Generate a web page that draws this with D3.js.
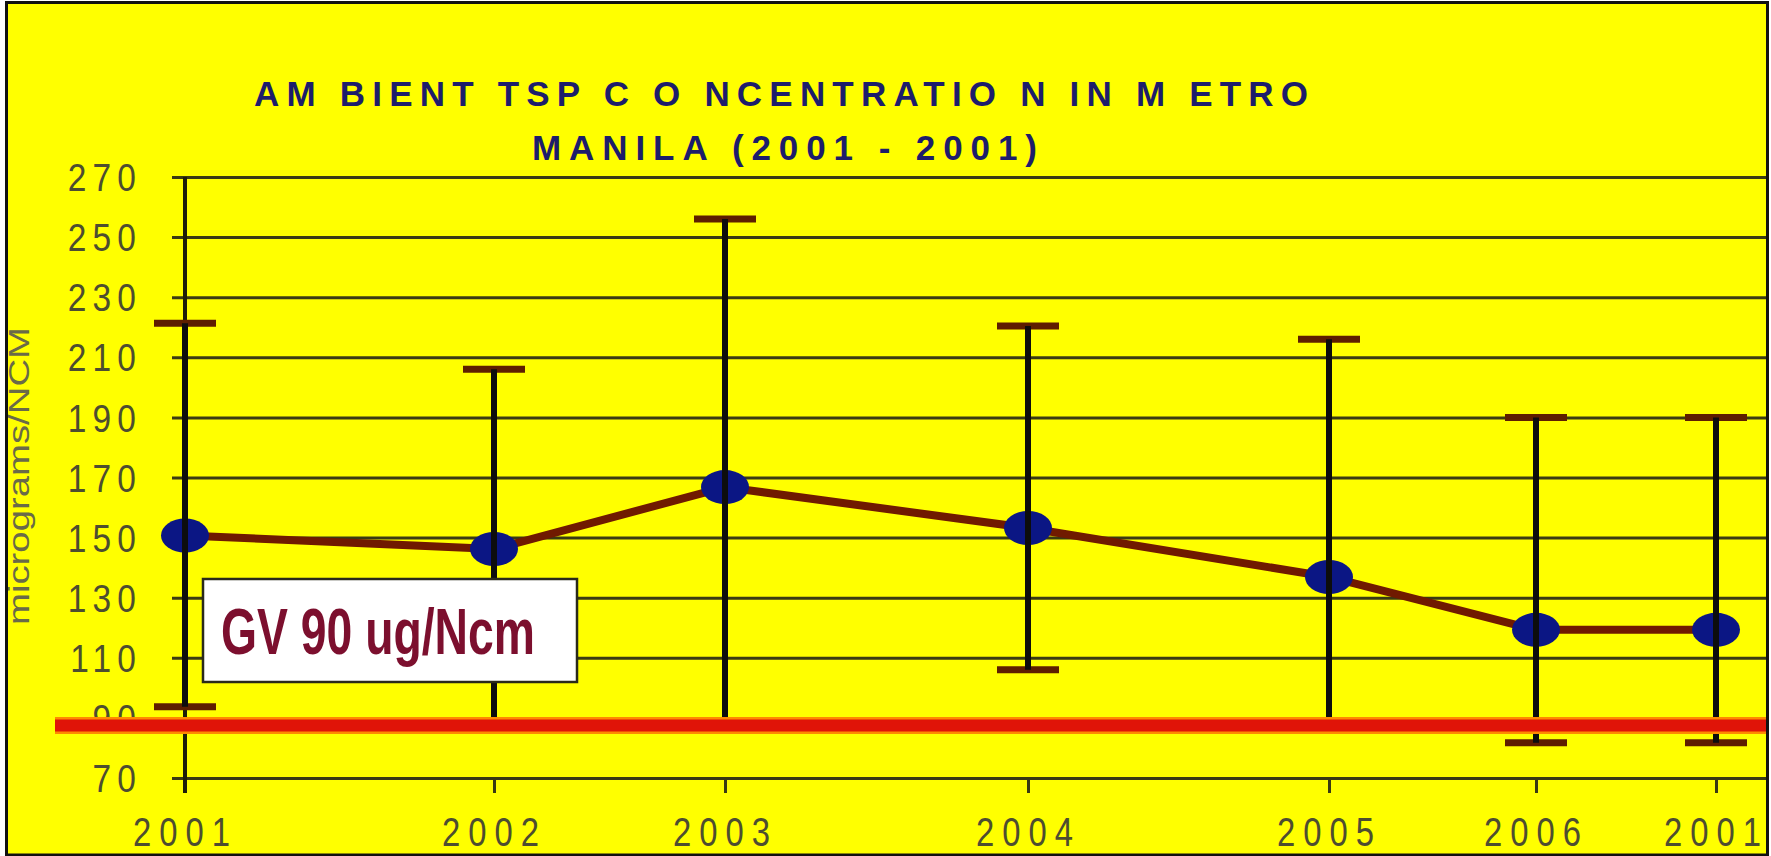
<!DOCTYPE html>
<html lang="en">
<head>
<meta charset="UTF-8">
<title>Ambient TSP Concentration in Metro Manila</title>
<script src="https://d3js.org/d3.v7.min.js"></script>
<style>
  body { margin: 0; background: #fff; }
  svg { display: block; }
  text { font-family: "Liberation Sans", Arial, sans-serif; }
</style>
</head>
<body>
<div id="chart"></div>
<script>
// year labels as printed on the slide (the last one really reads 2001)
var yearLabels = ["2001", "2002", "2003", "2004", "2005", "2006", "2001"];
var meanTsp  = [150.7, 146.2, 166.8, 153.2, 136.9, 119.3, 119.3];
var upperTsp = [221.3, 206.0, 256.0, 220.4, 216.0, 190.0, 190.0];
var lowerTsp = [93.7, 89.0, 89.0, 106.0, 89.0, 81.7, 81.7];
var yTickValues = [70, 90, 110, 130, 150, 170, 190, 210, 230, 250, 270];
var guideValue = 87.5;   // the red GV line sits a little under the 90 gridline
var guideLabel = "GV 90 ug/Ncm";
var titleLines = ["AM BIENT TSP C O NCENTRATIO N IN M ETRO", "MANILA (2001 - 2001)"];
var yAxisTitle = "micrograms/NCM";

var width = 1771, height = 856;
var frame = { left: 6.5, top: 2.5, right: 1767.5, bottom: 855 };

var svg = d3.select("#chart").append("svg")
    .attr("width", width)
    .attr("height", height);

// yellow slide background
svg.append("rect")
    .attr("x", frame.left).attr("y", frame.top)
    .attr("width", frame.right - frame.left)
    .attr("height", frame.bottom - frame.top)
    .attr("fill", "#ffff00");

// the years are not evenly spaced on the original slide
var x = d3.scaleOrdinal()
    .domain(d3.range(yearLabels.length))
    .range([185, 494, 725, 1028, 1329, 1536, 1716]);

var y = d3.scaleLinear()
    .domain([70, 270])
    .range([778, 177]);

// title
svg.append("text")
    .attr("x", 254).attr("y", 106)
    .attr("textLength", 1054)
    .attr("lengthAdjust", "spacing")
    .style("font-size", "35px").style("font-weight", "bold")
    .attr("fill", "#1d1d6b")
    .text(titleLines[0]);
svg.append("text")
    .attr("x", 532).attr("y", 160)
    .attr("textLength", 505)
    .attr("lengthAdjust", "spacing")
    .style("font-size", "35px").style("font-weight", "bold")
    .attr("fill", "#1d1d6b")
    .text(titleLines[1]);

// horizontal gridlines + y labels
var gridLeft = 172;
var yAxis = svg.append("g")
    .attr("transform", "translate(" + gridLeft + ",0)")
    .call(d3.axisLeft(y)
        .tickValues(yTickValues)
        .tickSize(-(frame.right - gridLeft))
        .tickPadding(0)
        .tickFormat(d3.format("d")));
yAxis.select(".domain").remove();
yAxis.selectAll(".tick line")
    .attr("stroke", "#3a3a12")
    .attr("stroke-width", 3);
// narrower digits, spaced apart like the slide
yAxis.selectAll(".tick text")
    .attr("x", null)
    .attr("fill", "#4d4d30")
    .style("font-size", "38px")
    .style("letter-spacing", "7px")
    .attr("dy", "0.36em")
    .attr("transform", "translate(-30,0) scale(0.88,1)");

// x axis ticks and labels
var xAxis = svg.append("g")
    .attr("transform", "translate(0," + y(70) + ")")
    .call(d3.axisBottom(x)
        .tickSize(15)
        .tickPadding(24)
        .tickFormat(function(i) { return yearLabels[i]; }));
xAxis.select(".domain").remove();
xAxis.selectAll(".tick line")
    .attr("stroke", "#3a3a12")
    .attr("stroke-width", 3);
xAxis.selectAll(".tick text")
    .attr("fill", "#4d4d30")
    .style("font-size", "41px")
    .style("letter-spacing", "10px")
    .attr("transform", "scale(0.8,1)");

// vertical axis line
svg.append("line")
    .attr("x1", x(0)).attr("x2", x(0))
    .attr("y1", y(270)).attr("y2", y(70) + 15)
    .attr("stroke", "#1e1e08")
    .attr("stroke-width", 4);

// y axis title
svg.append("text")
    .attr("transform", "translate(29," + 476 + ") rotate(-90)")
    .attr("text-anchor", "middle")
    .attr("textLength", 298)
    .attr("lengthAdjust", "spacingAndGlyphs")
    .style("font-size", "29px")
    .attr("fill", "#6a6a48")
    .text(yAxisTitle);

// line through the means
var meanLine = d3.line()
    .x(function(d, i) { return x(i); })
    .y(function(d) { return y(d); });

svg.append("path")
    .datum(meanTsp)
    .attr("d", meanLine)
    .attr("fill", "none")
    .attr("stroke", "#701a00")
    .attr("stroke-width", 8)
    .attr("stroke-linejoin", "round");

svg.selectAll(".marker")
    .data(meanTsp)
    .join("ellipse")
    .attr("class", "marker")
    .attr("cx", function(d, i) { return x(i); })
    .attr("cy", function(d) { return y(d); })
    .attr("rx", 24)
    .attr("ry", 17)
    .attr("fill", "#0b1684");

// error bars
var bars = d3.range(yearLabels.length);
svg.selectAll(".cap-hi")
    .data(bars)
    .join("line")
    .attr("class", "cap-hi")
    .attr("x1", function(i) { return x(i) - 31; })
    .attr("x2", function(i) { return x(i) + 31; })
    .attr("y1", function(i) { return y(upperTsp[i]); })
    .attr("y2", function(i) { return y(upperTsp[i]); })
    .attr("stroke", "#5e1e00")
    .attr("stroke-width", 7);
svg.selectAll(".cap-lo")
    .data(bars)
    .join("line")
    .attr("class", "cap-lo")
    .attr("x1", function(i) { return x(i) - 31; })
    .attr("x2", function(i) { return x(i) + 31; })
    .attr("y1", function(i) { return y(lowerTsp[i]); })
    .attr("y2", function(i) { return y(lowerTsp[i]); })
    .attr("stroke", "#5e1e00")
    .attr("stroke-width", 7);
svg.selectAll(".whisker")
    .data(bars)
    .join("line")
    .attr("class", "whisker")
    .attr("x1", function(i) { return x(i); })
    .attr("x2", function(i) { return x(i); })
    .attr("y1", function(i) { return y(lowerTsp[i]); })
    .attr("y2", function(i) { return y(upperTsp[i]); })
    .attr("stroke", "#0d0d0d")
    .attr("stroke-width", 6);

// guideline value line (orange fringe under the red)
svg.append("line")
    .attr("x1", 55).attr("x2", frame.right)
    .attr("y1", y(guideValue)).attr("y2", y(guideValue))
    .attr("stroke", "#ff8a00")
    .attr("stroke-width", 17);
svg.append("line")
    .attr("x1", 55).attr("x2", frame.right)
    .attr("y1", y(guideValue)).attr("y2", y(guideValue))
    .attr("stroke", "#e01408")
    .attr("stroke-width", 12);

// GV label box
svg.append("rect")
    .attr("x", 203).attr("y", 579)
    .attr("width", 374).attr("height", 103)
    .attr("fill", "#ffffff")
    .attr("stroke", "#2a2a1a")
    .attr("stroke-width", 2.5);
svg.append("text")
    .attr("x", 221).attr("y", 654)
    .attr("textLength", 314)
    .attr("lengthAdjust", "spacingAndGlyphs")
    .style("font-size", "64px").style("font-weight", "bold")
    .attr("fill", "#7c0f2e")
    .text(guideLabel);

// black slide frame
svg.append("rect")
    .attr("x", frame.left).attr("y", frame.top)
    .attr("width", frame.right - frame.left)
    .attr("height", frame.bottom - frame.top)
    .attr("fill", "none")
    .attr("stroke", "#111")
    .attr("stroke-width", 3);
</script>
</body>
</html>
